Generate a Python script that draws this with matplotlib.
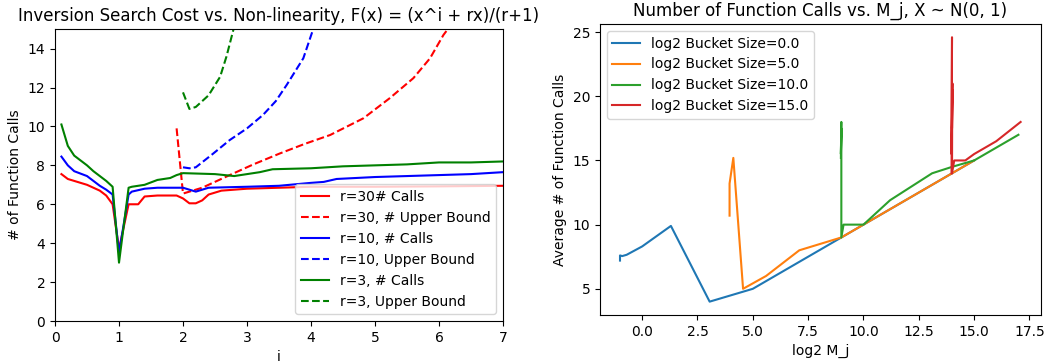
import numpy as np
from matplotlib import pyplot as plt

# left plot: i vs number of calls
x_r30 = [0.1, 0.2, 0.5, 0.7, 0.8, 0.9, 1.0, 1.15, 1.3, 1.4, 1.6, 1.9, 2.0, 2.1, 2.2, 2.3, 2.4, 2.6, 3.0, 3.5, 4.0, 5.0, 6.0, 7.0]
y_r30 = [7.55, 7.3, 7.0, 6.7, 6.45, 6.0, 3.7, 6.0, 6.0, 6.4, 6.45, 6.45, 6.3, 6.05, 6.05, 6.2, 6.5, 6.7, 6.8, 6.85, 6.9, 6.9, 6.92, 6.95]
x_r10 = [0.1, 0.2, 0.3, 0.5, 0.6, 0.7, 0.8, 0.9, 1.0, 1.15, 1.2, 1.4, 1.6, 2.0, 2.1, 2.2, 2.4, 3.0, 3.5, 4.0, 4.2, 4.4, 5.0, 5.5, 6.0, 6.5, 7.0]
y_r10 = [8.45, 8.0, 7.7, 7.45, 7.2, 6.95, 6.75, 6.5, 3.5, 6.5, 6.65, 6.8, 6.85, 6.85, 6.75, 6.65, 6.85, 6.9, 6.95, 7.1, 7.15, 7.3, 7.4, 7.45, 7.5, 7.55, 7.65]
x_r3 = [0.1, 0.2, 0.3, 0.5, 0.6, 0.7, 0.8, 0.9, 1.0, 1.15, 1.2, 1.4, 1.6, 1.8, 1.9, 2.0, 2.5, 2.8, 3.0, 3.2, 3.4, 4.0, 4.5, 5.0, 5.5, 6.0, 6.5, 7.0]
y_r3 = [10.1, 9.0, 8.5, 8.0, 7.7, 7.45, 7.2, 6.9, 3.0, 6.85, 6.9, 7.0, 7.25, 7.35, 7.5, 7.6, 7.55, 7.45, 7.55, 7.65, 7.8, 7.85, 7.95, 8.0, 8.05, 8.15, 8.15, 8.2]

# upper bounds (dashed)
xb_r30 = [1.9, 2.0, 2.3, 2.73, 3.1, 3.52, 3.9, 4.3, 4.82, 5.23, 5.6, 5.86, 6.07, 6.15]
yb_r30 = [9.9, 6.55, 6.85, 7.5, 8.05, 8.62, 9.1, 9.56, 10.42, 11.45, 12.48, 13.5, 14.7, 15.05]
xb_r10 = [2.0, 2.1, 2.2, 2.47, 2.73, 3.0, 3.25, 3.45, 3.62, 3.88, 4.04]
yb_r10 = [7.9, 7.85, 7.9, 8.6, 9.3, 9.9, 10.59, 11.3, 12.13, 13.5, 15.05]
xb_r3 = [2.0, 2.1, 2.2, 2.4, 2.58, 2.68, 2.79]
yb_r3 = [11.75, 10.9, 11.0, 11.6, 12.55, 13.6, 15.0]

# right plot: log2 M_j vs average calls, one line per bucket size
bucket_sizes = [0.0, 5.0, 10.0, 15.0]
mj_b0 = [-1.0, -1.0, -0.9, -0.7, 0.0, 1.3, 3.05, 5.0, 7.0, 9.0, 10.0, 15.0]
calls_b0 = [7.2, 7.6, 7.55, 7.65, 8.3, 9.9, 4.0, 5.0, 7.0, 9.0, 10.0, 15.0]
mj_b5 = [3.95, 3.95, 4.12, 4.56, 5.6, 7.1, 9.0, 10.0, 15.0]
calls_b5 = [10.7, 13.2, 15.2, 5.0, 6.0, 8.0, 9.0, 10.0, 15.0]
mj_b10 = [8.98, 9.0, 8.98, 9.0, 9.0, 9.1, 10.0, 11.2, 13.1, 14.0, 15.0, 17.0]
calls_b10 = [15.2, 18.0, 15.5, 17.5, 9.0, 10.0, 10.0, 11.9, 14.0, 14.5, 15.0, 17.0]
mj_b15 = [13.98, 14.0, 13.98, 14.02, 14.0, 14.01, 14.0, 14.1, 14.6, 15.0, 16.0, 17.1]
calls_b15 = [14.0, 24.6, 15.5, 21.0, 17.5, 20.5, 14.0, 15.0, 15.0, 15.5, 16.5, 18.0]

fig = plt.figure(figsize=(10.5, 3.64), dpi=100)

ax1 = fig.add_axes([0.0524, 0.118, 0.4266, 0.802])
ax1.plot(x_r30, y_r30, 'r-', label='r=30# Calls')
ax1.plot(xb_r30, yb_r30, 'r--', label='r=30, # Upper Bound')
ax1.plot(x_r10, y_r10, 'b-', label='r=10, # Calls')
ax1.plot(xb_r10, yb_r10, 'b--', label='r=10, Upper Bound')
ax1.plot(x_r3, y_r3, 'g-', label='r=3, # Calls')
ax1.plot(xb_r3, yb_r3, 'g--', label='r=3, Upper Bound')
ax1.set_xlim(0, 7)
ax1.set_ylim(0, 15)
ax1.set_yticks(np.arange(0, 15, 2))
ax1.set_title('Inversion Search Cost vs. Non-linearity, F(x) = (x^i + rx)/(r+1)')
ax1.set_xlabel('i')
ax1.set_ylabel('# of Function Calls')
ax1.legend(loc='lower right')

ax2 = fig.add_axes([0.5714, 0.135, 0.4197, 0.799])
series = [(mj_b0, calls_b0), (mj_b5, calls_b5), (mj_b10, calls_b10), (mj_b15, calls_b15)]
for size, (mj, calls) in zip(bucket_sizes, series):
    ax2.plot(mj, calls, label='log2 Bucket Size=' + str(size))
ax2.set_title('Number of Function Calls vs. M_j, X ~ N(0, 1)')
ax2.set_xlabel('log2 M_j')
ax2.set_ylabel('Average # of Function Calls')
ax2.legend(loc='upper left')

plt.savefig('out.png')
